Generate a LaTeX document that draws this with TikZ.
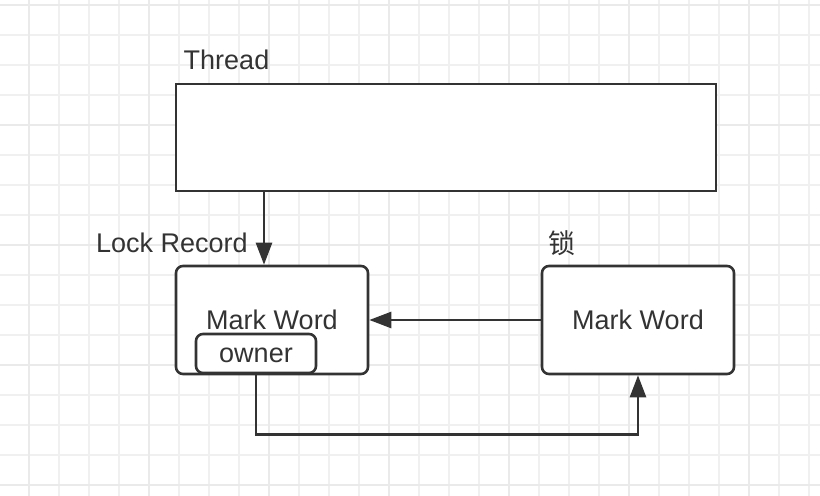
\documentclass[tikz,border=0pt]{standalone}
\usepackage{fontspec}
\setmainfont{Liberation Sans}
\newfontfamily\cjk{Noto Sans CJK SC}
\usetikzlibrary{arrows.meta,positioning}
\definecolor{ink}{HTML}{333333}
\definecolor{gridminor}{HTML}{F0F0F0}
\definecolor{gridmajor}{HTML}{EAEAEA}

\begin{document}
\begin{tikzpicture}[
    x=0.5pt,y=-0.5pt,
    font=\fontsize{13.5}{16}\selectfont,
    text=ink,
    minorgrid/.style={gridminor,line width=1pt},
    majorgrid/.style={gridmajor,line width=1.4pt},
    plainbox/.style={
      draw=ink,line width=1.3pt,fill=white,inner sep=0pt
    },
    roundbox/.style={
      plainbox,rounded corners=3.5pt
    },
    link/.style={draw=ink,line width=1.3pt,-{Triangle[length=11pt,width=8pt]}}
  ]

  \useasboundingbox[fill=white] (0,0) rectangle (820,496);

  % background grid
  \foreach \x in {29,59,...,809} \draw[minorgrid] (\x,0) -- (\x,496);
  \foreach \y in {5,35,...,485}  \draw[minorgrid] (0,\y) -- (820,\y);
  \foreach \x in {29,149,...,749} \draw[majorgrid] (\x,0) -- (\x,496);
  \foreach \y in {5,125,...,485}  \draw[majorgrid] (0,\y) -- (820,\y);

  \node (thread) [plainbox,minimum width=270pt,minimum height=53.5pt] at (446,137.5) {};
  \node (lock)   [roundbox,minimum width=96pt,minimum height=54pt] at (272,320) {Mark Word};
  \node (owner)  [roundbox,minimum width=60pt,minimum height=19.5pt,text height=9pt,text depth=0pt] at (256,353.5) {owner};
  \node (obj)    [roundbox,minimum width=96pt,minimum height=54pt] at (638,320) {Mark Word};

  \node (threadlbl) at (226.5,60) {Thread};
  \node (locklbl)   at (172,243)  {Lock Record};
  \node (objlbl)    at (562,243)  {\cjk 锁};

  % draw edges
  \draw [link] ([xshift=-4pt]lock.north |- thread.south) -- ([xshift=-4pt]lock.north);
  \draw [link] (obj.west) -- (lock.east);
  \draw [link] (owner.south) -- ++(0,60) -| (obj.south);
\end{tikzpicture}
\end{document}
